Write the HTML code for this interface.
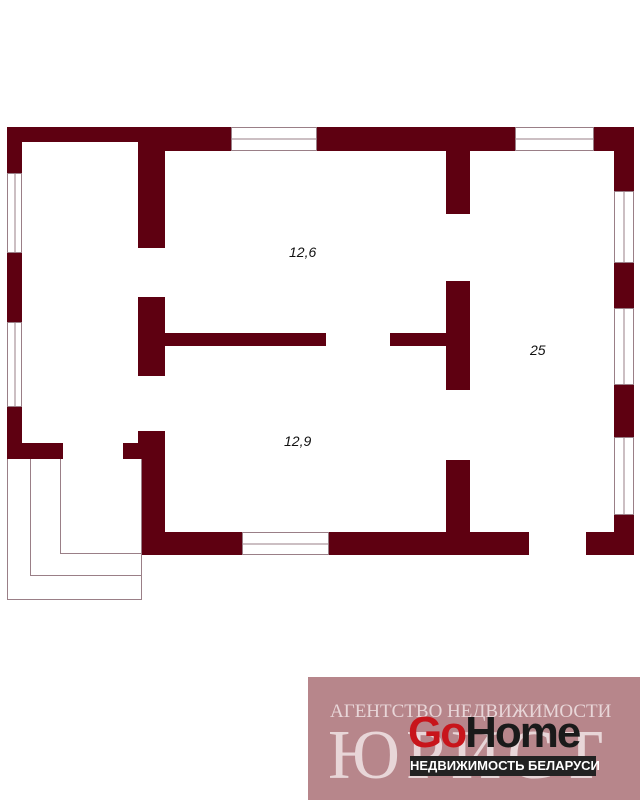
<!DOCTYPE html>
<html><head><meta charset="utf-8"><style>
body{margin:0;width:640px;height:800px;background:#fff;position:relative;overflow:hidden;font-family:"Liberation Sans",sans-serif}
</style></head><body>
<svg width="640" height="800" style="position:absolute;left:0;top:0">
<g fill="#5e0011">
<rect x="7" y="127" width="224" height="15"/>
<rect x="138" y="127" width="93" height="24"/>
<rect x="316" y="127" width="199" height="24"/>
<rect x="593" y="127" width="41" height="24"/>
<rect x="614" y="127" width="20" height="64"/>
<rect x="614" y="262" width="20" height="46"/>
<rect x="614" y="384" width="20" height="53"/>
<rect x="614" y="514" width="20" height="41"/>
<rect x="7" y="127" width="15" height="46"/>
<rect x="7" y="252" width="15" height="70"/>
<rect x="7" y="406" width="15" height="53"/>
<rect x="7" y="443" width="56" height="16"/>
<rect x="123" y="443" width="17" height="16"/>
<rect x="138" y="127" width="27" height="121"/>
<rect x="138" y="297" width="27" height="79"/>
<rect x="165" y="333" width="161" height="13"/>
<rect x="138" y="431" width="27" height="28"/>
<rect x="141" y="443" width="24" height="112"/>
<rect x="141" y="532" width="101" height="23"/>
<rect x="328" y="532" width="201" height="23"/>
<rect x="586" y="532" width="48" height="23"/>
<rect x="446" y="127" width="24" height="87"/>
<rect x="446" y="281" width="24" height="109"/>
<rect x="390" y="333" width="57" height="13"/>
<rect x="446" y="460" width="24" height="75"/>
</g>
<g fill="none" stroke="#9a7f87" stroke-width="1">
<rect x="231.5" y="127.5" width="85" height="23"/><line x1="231" y1="139" x2="316" y2="139"/>
<rect x="515.5" y="127.5" width="78" height="23"/><line x1="515" y1="139" x2="593" y2="139"/>
<rect x="7.5" y="173.5" width="14" height="79"/><line x1="15" y1="173" x2="15" y2="252"/>
<rect x="7.5" y="322.5" width="14" height="84"/><line x1="15" y1="322" x2="15" y2="406"/>
<rect x="614.5" y="191.5" width="19" height="71"/><line x1="624" y1="191" x2="624" y2="262"/>
<rect x="614.5" y="308.5" width="19" height="76"/><line x1="624" y1="308" x2="624" y2="384"/>
<rect x="614.5" y="437.5" width="19" height="77"/><line x1="624" y1="437" x2="624" y2="514"/>
<rect x="242.5" y="532.5" width="86" height="22"/><line x1="242" y1="544" x2="328" y2="544"/>
<polyline points="7.5,459 7.5,599.5 141.5,599.5 141.5,459"/>
<polyline points="30.5,459 30.5,575.5 141.5,575.5"/>
<polyline points="60.5,459 60.5,553.5 141.5,553.5"/>
</g>
<g font-family="Liberation Sans, sans-serif" font-style="italic" font-size="14" fill="#111">
<text x="289" y="257">12,6</text>
<text x="284" y="446">12,9</text>
<text x="530" y="355">25</text>
</g>
</svg>
<div style="position:absolute;left:308px;top:677px;width:332px;height:123px;background:#b7868b;overflow:hidden">
<div style="position:absolute;left:22px;top:24px;font-family:'Liberation Serif',serif;font-size:19px;color:#e8d6d8;white-space:nowrap">АГЕНТСТВО НЕДВИЖИМОСТИ</div>
<div style="position:absolute;left:20px;top:44px;font-family:'Liberation Serif',serif;font-size:70px;line-height:70px;color:#e8d6d8;letter-spacing:6px;white-space:nowrap">ЮРИСТ</div>
<div style="position:absolute;left:100px;top:32px;font-family:'Liberation Sans',sans-serif;font-weight:bold;font-size:44px;line-height:48px;letter-spacing:-2px;white-space:nowrap"><span style="color:#c8151b">Go</span><span style="color:#1a1a1a">Home</span></div>
<div style="position:absolute;left:102px;top:79px;width:186px;height:20px;background:#222;color:#fff;font-family:'Liberation Sans',sans-serif;font-weight:bold;font-size:13px;line-height:20px;text-align:center;white-space:nowrap">НЕДВИЖИМОСТЬ БЕЛАРУСИ</div>
</div>
</body></html>
